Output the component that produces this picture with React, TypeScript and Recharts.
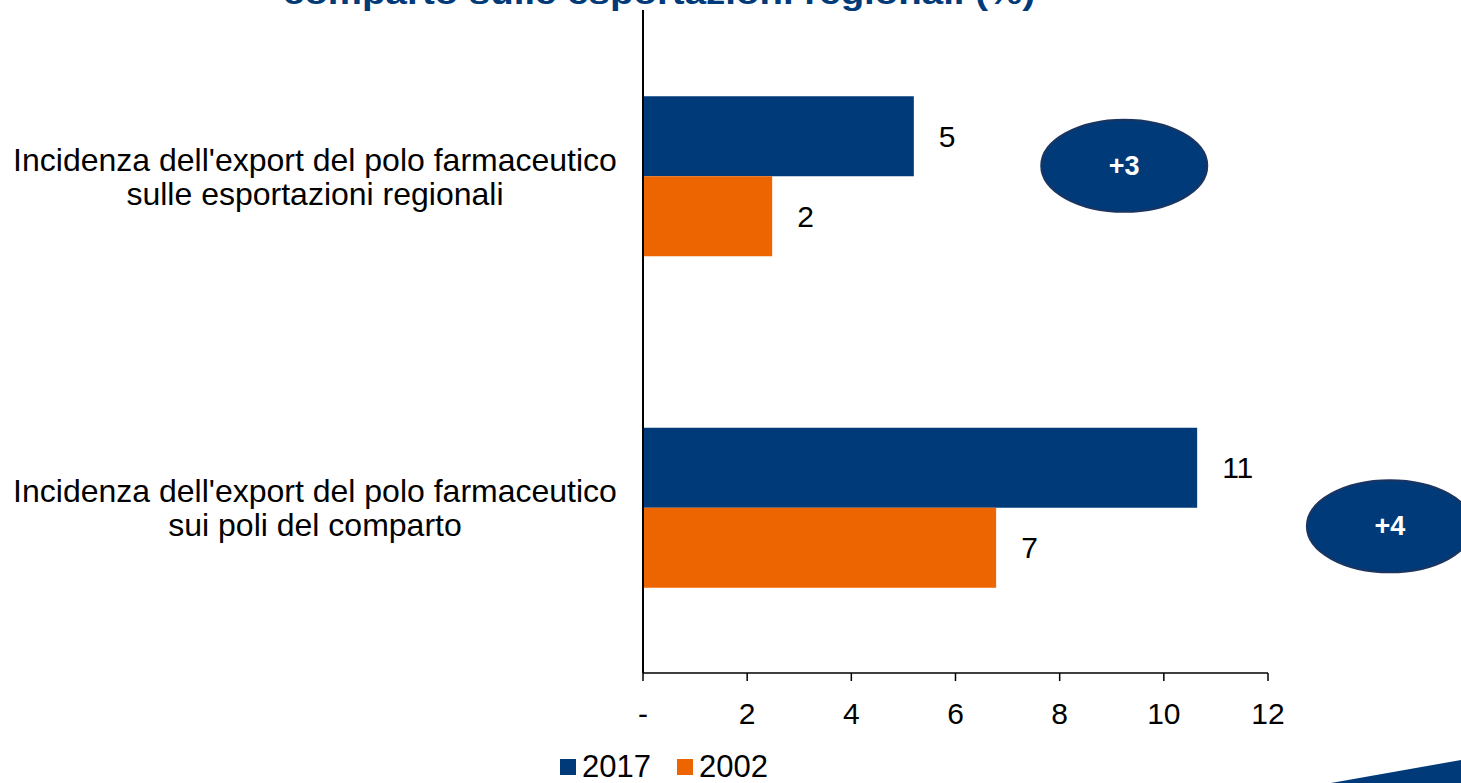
import React from "react";
import {
  BarChart,
  Bar,
  XAxis,
  YAxis,
  Legend,
  LabelList,
  ReferenceDot,
} from "recharts";

// values (labels show rounded numbers)
const categories = [
  "Incidenza dell'export del polo farmaceutico\nsulle esportazioni regionali",
  "Incidenza dell'export del polo farmaceutico\nsui poli del comparto",
];
const values2017 = [5.2, 10.64];
const values2002 = [2.48, 6.78];
const xTicks = [0, 2, 4, 6, 8, 10, 12];
const deltaLabels = ["+3", "+4"];
const deltaX = [9.24, 14.34];
const legendOrder = ["2017", "2002"];

const NAVY = "#003A78";
const ORANGE = "#EC6500";
const FONT = "'Liberation Sans', Arial, sans-serif";

const data = categories.map((cat, i) => ({
  cat,
  v2017: values2017[i],
  v2002: values2002[i],
}));

function CategoryTick(props: any) {
  const { y, payload } = props;
  const lines: string[] = String(payload.value).split("\n");
  return (
    <text x={315} y={y} textAnchor="middle" fontSize={32} fontFamily={FONT} fill="#000">
      {lines.map((line, i) => (
        <tspan key={i} x={315} dy={i === 0 ? -5 : 34}>
          {line}
        </tspan>
      ))}
    </text>
  );
}

function DeltaBubble(props: any, label: string, dy: number) {
  const { cx, cy } = props;
  if (cx == null || cy == null) return <g />;
  return (
    <g>
      <ellipse cx={cx} cy={cy + dy} rx={83} ry={46} fill={NAVY} stroke="#1c3560" strokeWidth={2} />
      <text
        x={cx}
        y={cy + dy + 9}
        textAnchor="middle"
        fontSize={27}
        fontWeight="bold"
        fontFamily={FONT}
        fill="#fff"
      >
        {label}
      </text>
    </g>
  );
}

const bubbleDy = [-10, 19];

function LegendContent(props: any) {
  const items = [...(props.payload || [])].sort(
    (a: any, b: any) => legendOrder.indexOf(a.value) - legendOrder.indexOf(b.value)
  );
  return (
    <div style={{ display: "flex", alignItems: "center", fontFamily: FONT, fontSize: 31, lineHeight: "30px" }}>
      {items.map((it: any, i: number) => (
        <div key={i} style={{ display: "flex", alignItems: "center", marginRight: 26 }}>
          <span style={{ width: 16, height: 16, background: it.color, display: "inline-block", marginRight: 6 }} />
          <span style={{ color: "#000" }}>{it.value}</span>
        </div>
      ))}
    </div>
  );
}

export default function App() {
  return (
    <div
      style={{
        position: "absolute",
        left: 0,
        top: 0,
        width: 1461,
        height: 783,
        background: "#fff",
        overflow: "hidden",
      }}
    >
      <BarChart
        layout="vertical"
        width={1461}
        height={783}
        data={data}
        margin={{ top: 10, right: 193, bottom: 20, left: 0 }}
        barCategoryGap="26%"
        barGap={0}
      >
        <XAxis
          type="number"
          domain={[0, 12]}
          ticks={xTicks}
          interval={0}
          tickFormatter={(v: number) => (v === 0 ? "-" : String(v))}
          axisLine={{ stroke: "#000", strokeWidth: 1.5 }}
          tickLine={{ stroke: "#000", strokeWidth: 1.5 }}
          tickSize={8}
          tickMargin={22}
          height={60}
          tick={{ fill: "#000", fontSize: 30, fontFamily: FONT }}
        />
        <YAxis
          type="category"
          dataKey="cat"
          width={643}
          axisLine={{ stroke: "#000", strokeWidth: 2 }}
          tickLine={false}
          tick={<CategoryTick />}
        />
        <Legend
          content={<LegendContent />}
          wrapperStyle={{ position: "absolute", left: 560, top: 752, width: "auto" }}
        />
        <Bar dataKey="v2017" name="2017" fill={NAVY} isAnimationActive={false}>
          <LabelList
            dataKey="v2017"
            position="right"
            offset={25}
            formatter={(v: any) => Math.round(Number(v))}
            style={{ fill: "#000", fontSize: 30, fontFamily: FONT }}
          />
        </Bar>
        <Bar dataKey="v2002" name="2002" fill={ORANGE} isAnimationActive={false}>
          <LabelList
            dataKey="v2002"
            position="right"
            offset={25}
            formatter={(v: any) => Math.round(Number(v))}
            style={{ fill: "#000", fontSize: 30, fontFamily: FONT }}
          />
        </Bar>
        {categories.map((cat, i) => (
          <ReferenceDot
            key={cat}
            x={deltaX[i]}
            y={cat}
            ifOverflow="visible"
            shape={(p: any) => DeltaBubble(p, deltaLabels[i], bubbleDy[i])}
          />
        ))}
      </BarChart>
      <svg
        width={1461}
        height={783}
        style={{ position: "absolute", left: 0, top: 0, pointerEvents: "none" }}
      >
        <text
          x={283}
          y={4}
          fontSize={32}
          fontWeight="bold"
          fontFamily={FONT}
          fill={NAVY}
          textLength={752}
          lengthAdjust="spacingAndGlyphs"
        >
          comparto sulle esportazioni regionali (%)
        </text>
        <polygon points="1331,783 1461,760 1461,783" fill={NAVY} />
      </svg>
    </div>
  );
}
